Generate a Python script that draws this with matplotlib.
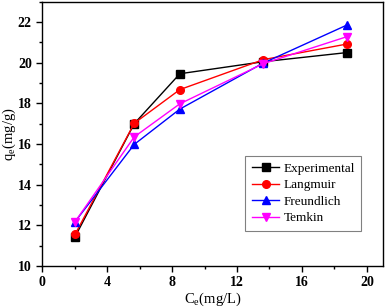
import numpy as np
import matplotlib
matplotlib.use("Agg")
import matplotlib.pyplot as plt
from matplotlib.ticker import MultipleLocator

plt.rcParams['font.family'] = ['Liberation Serif', 'DejaVu Serif']

# data
ce = [2.03, 5.67, 8.48, 13.6, 18.75]
experimental = [11.44, 17.0, 19.46, 20.05, 20.5]
langmuir = [11.56, 17.02, 18.68, 20.15, 20.92]
freundlich = [12.18, 15.98, 17.72, 19.98, 21.85]
temkin = [12.18, 16.35, 17.98, 19.95, 21.28]

series = [
    ("Experimental", experimental, "black", "s"),
    ("Langmuir", langmuir, "red", "o"),
    ("Freundlich", freundlich, "blue", "^"),
    ("Temkin", temkin, "magenta", "v"),
]

fig = plt.figure(figsize=(3.87, 3.07), dpi=100)
ax = fig.add_axes([0.109, 0.134, 0.881, 0.86])

for name, vals, col, mk in series:
    ax.plot(ce, vals, color=col, marker=mk, markersize=5.5, linewidth=1, label=name)

ax.set_xlim(0, 21)
ax.set_ylim(10, 23)
ax.xaxis.set_major_locator(MultipleLocator(4))
ax.xaxis.set_minor_locator(MultipleLocator(2))
ax.yaxis.set_major_locator(MultipleLocator(2))
ax.yaxis.set_minor_locator(MultipleLocator(1))
ax.tick_params(which='both', direction='out', top=False, right=False, width=1)
ax.tick_params(which='major', length=4, labelsize=10)
ax.tick_params(which='minor', length=2.5)
for lab in ax.get_xticklabels() + ax.get_yticklabels():
    lab.set_fontweight('bold')
for s in ax.spines.values():
    s.set_linewidth(1)

ax.set_xlabel(r"C$_{\mathregular{e}}$(mg/L)", fontsize=10.5, labelpad=1)
ax.set_ylabel(r"q$_{\mathregular{e}}$(mg/g)", fontsize=10.5, labelpad=1)
ax.yaxis.set_label_coords(-0.071, 0.5)

leg = ax.legend(loc='lower right', bbox_to_anchor=(0.936, 0.133), borderaxespad=0,
                fontsize=9.5, frameon=True, fancybox=False, edgecolor='gray', framealpha=1,
                handlelength=2.1, handletextpad=0.3, borderpad=0.5, labelspacing=0.32)
leg.get_frame().set_linewidth(0.8)

fig.savefig("out.png", dpi=100)
